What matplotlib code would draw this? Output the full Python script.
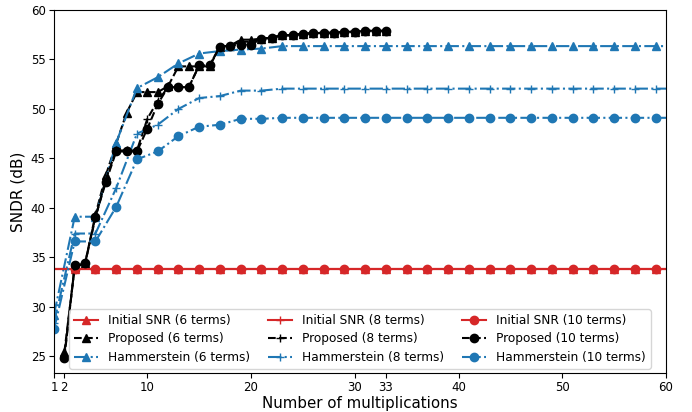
import numpy as np
import matplotlib
matplotlib.use('Agg')
import matplotlib.pyplot as plt

# Eje x de los métodos propuestos (número de multiplicaciones)
x_prop = list(range(2, 34))
# Eje x de Hammerstein y SNR inicial (impares)
x_ham = list(range(1, 62, 2))

# SNR inicial (igual para 6, 8 y 10 términos)
snr_inicial = [33.8] * len(x_ham)

# Propuesto
prop_6 = [25.4, 34.0, 34.4, 39.3, 43.3, 46.5, 49.6, 51.7, 51.7, 51.7, 52.3, 54.3,
          54.3, 54.3, 54.3, 56.3, 56.4, 57.0, 57.0, 57.1, 57.2, 57.45, 57.45, 57.6,
          57.65, 57.7, 57.7, 57.8, 57.8, 57.9, 57.9, 57.9]
prop_8 = [25.0, 34.1, 34.4, 39.0, 42.9, 45.8, 45.8, 45.8, 49.0, 50.8, 52.2, 52.2,
          52.2, 54.4, 54.4, 56.3, 56.4, 56.8, 56.8, 57.1, 57.2, 57.45, 57.45, 57.6,
          57.65, 57.7, 57.7, 57.8, 57.8, 57.9, 57.9, 57.9]
prop_10 = [24.8, 34.2, 34.4, 39.1, 42.6, 45.7, 45.7, 45.7, 48.0, 50.5, 52.2, 52.2,
           52.2, 54.4, 54.4, 56.3, 56.4, 56.5, 56.5, 57.1, 57.2, 57.45, 57.45, 57.6,
           57.65, 57.7, 57.7, 57.8, 57.8, 57.9, 57.9, 57.9]

# Hammerstein
ham_6 = [29.2, 39.1, 39.1, 46.6, 52.1, 53.2, 54.6, 55.6, 55.85, 56.0, 56.1,
         56.35, 56.35, 56.35, 56.35, 56.35, 56.35, 56.35, 56.35, 56.35, 56.35,
         56.35, 56.35, 56.35, 56.35, 56.35, 56.35, 56.35, 56.35, 56.35, 56.35]
ham_8 = [28.4, 37.4, 37.4, 42.0, 47.5, 48.4, 50.0, 51.1, 51.3, 51.85, 51.85,
         52.05, 52.05, 52.05, 52.05, 52.05, 52.05, 52.05, 52.05, 52.05, 52.05,
         52.05, 52.05, 52.05, 52.05, 52.05, 52.05, 52.05, 52.05, 52.05, 52.05]
ham_10 = [27.7, 36.6, 36.6, 40.1, 44.9, 45.7, 47.25, 48.2, 48.4, 49.0, 49.0,
          49.1, 49.1, 49.1, 49.1, 49.1, 49.1, 49.1, 49.1, 49.1, 49.1,
          49.1, 49.1, 49.1, 49.1, 49.1, 49.1, 49.1, 49.1, 49.1, 49.1]

terminos = [6, 8, 10]
marcadores = ['^', '+', 'o']
propuestos = [prop_6, prop_8, prop_10]
hammerstein = [ham_6, ham_8, ham_10]

xticks = [1, 2, 10, 20, 30, 33, 40, 50, 60]

fig = plt.figure(figsize=(6.92, 4.12), dpi=100)
ax = fig.add_axes([0.078, 0.0947, 0.8844, 0.881])

for k, m, p, h in zip(terminos, marcadores, propuestos, hammerstein):
    ax.plot(x_ham, snr_inicial, color='#d62728', marker=m, ms=6, lw=1.5,
            markevery=slice(1, None), label=f'Initial SNR ({k} terms)')
    ax.plot(x_prop, p, 'k--', marker=m, ms=6, lw=1.5, label=f'Proposed ({k} terms)')
    ax.plot(x_ham, h, color='#1f77b4', ls='-.', marker=m, ms=6, lw=1.5,
            label=f'Hammerstein ({k} terms)')

ax.set_xlim(1, 60)
ax.set_ylim(23.3, 60)
ax.set_xticks(xticks)
ax.tick_params(labelsize=8.5, pad=2.5)
ax.set_xlabel('Number of multiplications', fontsize=10.8, labelpad=1)
ax.set_ylabel('SNDR (dB)', fontsize=11, labelpad=4)
ax.legend(loc='lower center', ncol=3, fontsize=8.7, borderaxespad=0.35,
          handlelength=2.0, columnspacing=1.5, labelspacing=0.45)

fig.savefig('out.png', dpi=100)
